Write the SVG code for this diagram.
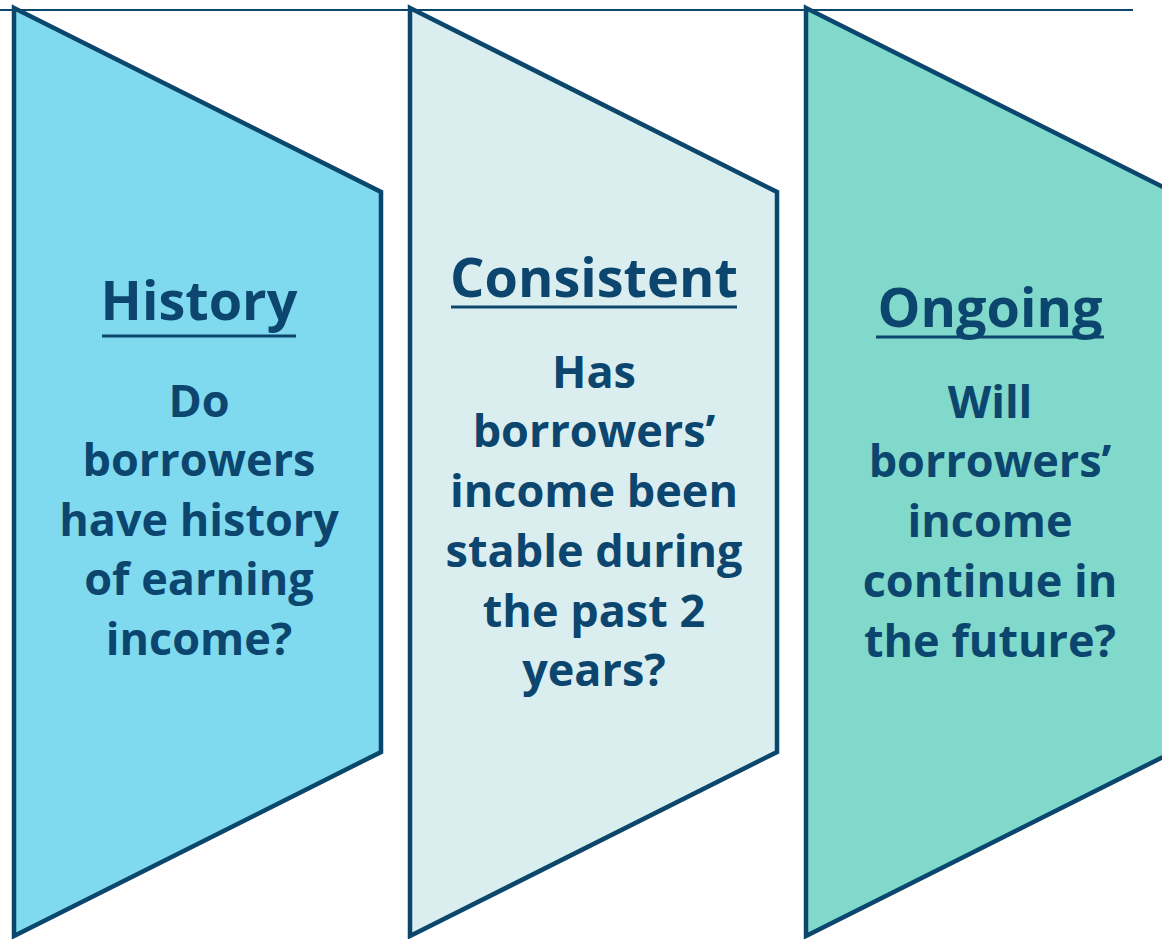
<svg xmlns="http://www.w3.org/2000/svg" width="1162" height="939" viewBox="0 0 1162 939">
  <style>
    .panel { stroke: #0b466c; stroke-width: 4.5; stroke-linejoin: miter; }
    .p1 { fill: #7fdaef; }
    .p2 { fill: #daeef0; }
    .p3 { fill: #80d9ca; }
    .title { font-family: "Open Sans", "Liberation Sans", sans-serif; font-weight: 700; font-size: 54px; fill: #0c466e; text-anchor: middle; }
    .body { font-family: "Open Sans", "Liberation Sans", sans-serif; font-weight: 700; font-size: 45px; fill: #0c466e; text-anchor: middle; }
    .ul { stroke: #0c466e; stroke-width: 3; }
    .topline { stroke: #0b466c; stroke-width: 2; }
  </style>
  <rect width="1162" height="939" fill="#ffffff"/>
  <g id="connectors">
    <line class="topline" x1="0" y1="10" x2="1133" y2="10"/>
  </g>
  <g id="history">
    <polygon class="panel p1" points="14,8 381,192 381,752 14,936"/>
    <text class="title" x="199" y="320">History</text>
    <line class="ul" x1="102" y1="336" x2="296" y2="336"/>
    <text class="body" x="199" y="417">Do</text>
    <text class="body" x="199" y="476">borrowers</text>
    <text class="body" x="199" y="536">have history</text>
    <text class="body" x="199" y="595">of earning</text>
    <text class="body" x="199" y="655">income?</text>
  </g>
  <g id="consistent">
    <polygon class="panel p2" points="410,8 777,192 777,752 410,936"/>
    <text class="title" x="594" y="297">Consistent</text>
    <line class="ul" x1="451" y1="307" x2="737" y2="307"/>
    <text class="body" x="594" y="388">Has</text>
    <text class="body" x="594" y="447">borrowers’</text>
    <text class="body" x="594" y="507">income been</text>
    <text class="body" x="594" y="567">stable during</text>
    <text class="body" x="594" y="627">the past 2</text>
    <text class="body" x="594" y="686">years?</text>
  </g>
  <g id="ongoing">
    <polygon class="panel p3" points="806,8 1173,192 1173,752 806,936"/>
    <text class="title" x="990" y="327">Ongoing</text>
    <line class="ul" x1="876" y1="337" x2="1104" y2="337"/>
    <text class="body" x="990" y="418">Will</text>
    <text class="body" x="990" y="477">borrowers’</text>
    <text class="body" x="990" y="537">income</text>
    <text class="body" x="990" y="597">continue in</text>
    <text class="body" x="990" y="657">the future?</text>
  </g>
</svg>
